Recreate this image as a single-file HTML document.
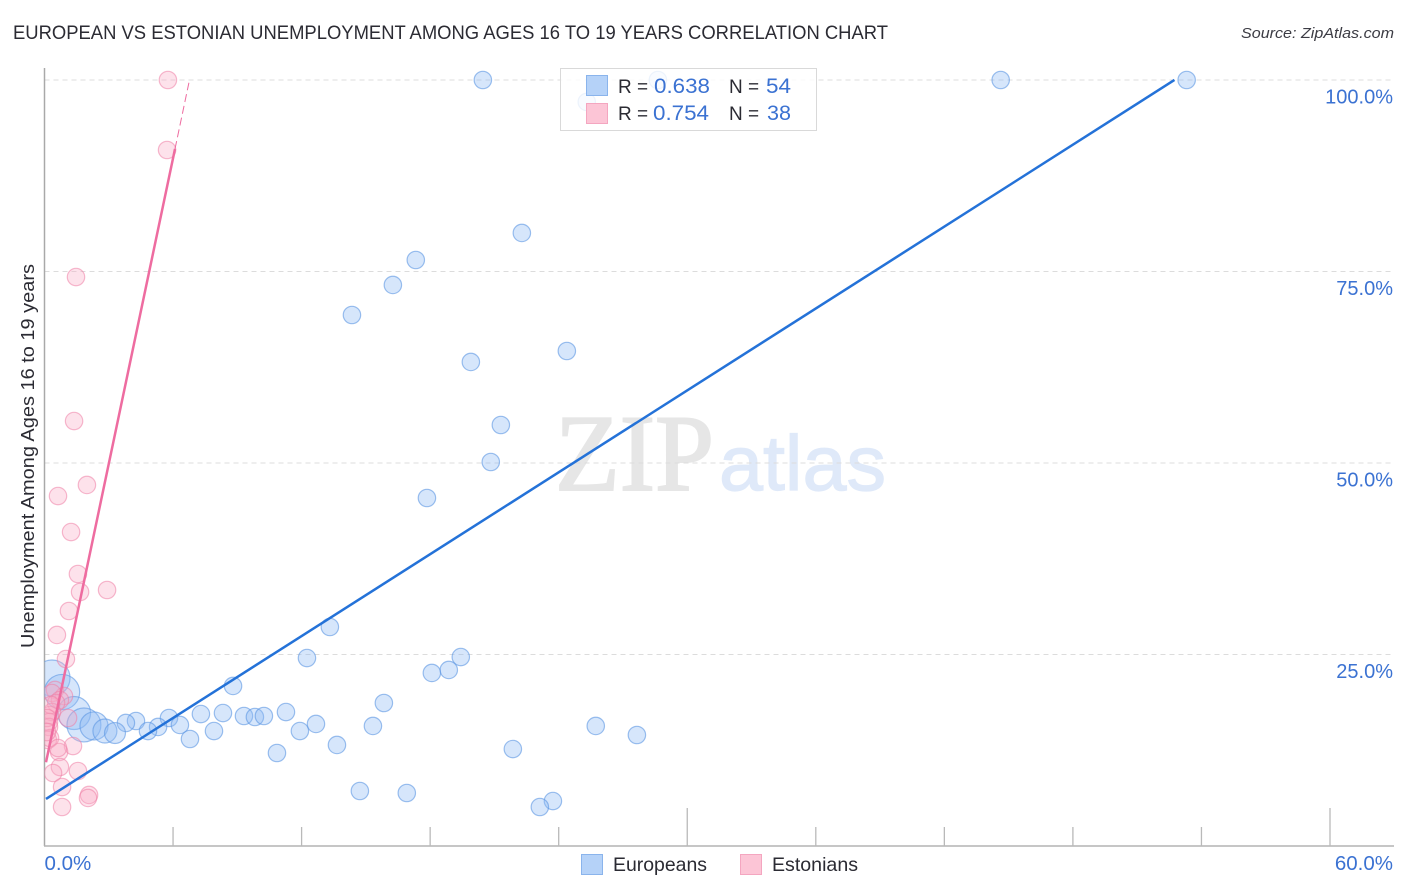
<!DOCTYPE html>
<html lang="en">
<head>
<meta charset="utf-8">
<title>European vs Estonian Unemployment Correlation Chart</title>
<style>
html,body{margin:0;padding:0;background:#fff;}
svg{display:block;font-family:"Liberation Sans",sans-serif;}
</style>
</head>
<body>
<svg id="chart" xmlns="http://www.w3.org/2000/svg" width="1406" height="892" viewBox="0 0 1406 892">
  <defs><clipPath id="plot-clip"><rect x="44.5" y="60" width="1350" height="786"/></clipPath></defs>
  <text x="13" y="39" font-size="19" fill="#2b2b33" textLength="875" lengthAdjust="spacingAndGlyphs">EUROPEAN VS ESTONIAN UNEMPLOYMENT AMONG AGES 16 TO 19 YEARS CORRELATION CHART</text>
  <text x="1241" y="38" font-size="15" font-style="italic" fill="#3c3c44" textLength="153" lengthAdjust="spacingAndGlyphs">Source: ZipAtlas.com</text>
  <text x="555" y="490" font-family="'Liberation Serif',serif" font-size="109" fill="#e6e6e6" stroke="#e6e6e6" stroke-width="2" textLength="159" lengthAdjust="spacingAndGlyphs">ZIP</text>
  <text x="719" y="490" font-size="78" fill="#dfe9f9" stroke="#dfe9f9" stroke-width="1.2" textLength="167" lengthAdjust="spacingAndGlyphs">atlas</text>
  <g id="grid"></g>
  <g id="axes"></g>
  <g id="marks" clip-path="url(#plot-clip)"></g>
  <g id="trends"></g>
  <text transform="translate(34 648) rotate(-90)" font-size="18" fill="#2b2b33" textLength="384" lengthAdjust="spacingAndGlyphs">Unemployment Among Ages 16 to 19 years</text>

  <g>
    <rect x="560.5" y="68.5" width="256" height="62" fill="#fff" fill-opacity="0.82" stroke="#d9d9d9"/>
    <rect x="586.5" y="75.5" width="21" height="20" fill="#b5d2f8" stroke="#8ab4ec"/>
    <rect x="586.5" y="103.5" width="21" height="20" fill="#fcc5d6" stroke="#f4a6c0"/>
    <g font-size="20" fill="#2b2b33">
      <text x="618" y="93" font-size="19">R =</text>
      <text x="654" y="93" fill="#3b72d2" font-size="21" textLength="56" lengthAdjust="spacingAndGlyphs">0.638</text>
      <text x="729" y="93" font-size="19">N =</text>
      <text x="766" y="93" fill="#3b72d2" font-size="21" textLength="25" lengthAdjust="spacingAndGlyphs">54</text>
      <text x="618" y="120" font-size="19">R =</text>
      <text x="653" y="120" fill="#3b72d2" font-size="21" textLength="56" lengthAdjust="spacingAndGlyphs">0.754</text>
      <text x="729" y="120" font-size="19">N =</text>
      <text x="767" y="120" fill="#3b72d2" font-size="21" textLength="24" lengthAdjust="spacingAndGlyphs">38</text>
    </g>
  </g>

  <g>
    <g>
      <rect x="581.5" y="854.5" width="21" height="20" fill="#b5d2f8" stroke="#8ab4ec"/>
      <text x="613" y="871" font-size="19.5" fill="#2b2b33" textLength="94" lengthAdjust="spacingAndGlyphs">Europeans</text>
    </g>
    <g>
      <rect x="740.5" y="854.5" width="21" height="20" fill="#fcc5d6" stroke="#f4a6c0"/>
      <text x="772" y="871" font-size="19.5" fill="#2b2b33" textLength="86" lengthAdjust="spacingAndGlyphs">Estonians</text>
    </g>
  </g>
</svg>
<script>
const xTickValues = [0, 6, 12, 18, 24, 30, 36, 42, 48, 54, 60];
const xMajorTicks = [0, 30, 60];
const xTickLabels = ["0.0%", "60.0%"];
const xTickLabelValues = [0, 60];
const yTickValues = [100, 75, 50, 25];
const yTickLabels = ["100.0%", "75.0%", "50.0%", "25.0%"];

const europeanX = [20.46,28.63,44.63,53.31,25.31,22.28,17.33,16.26,14.35,24.38,19.90,21.30,20.83,17.85,13.32,12.25,19.43,18.87,18.08,8.80,15.84,25.73,27.65,11.27,7.30,8.33,9.31,9.82,10.24,5.81,4.27,3.80,5.30,4.83,6.32,7.91,11.92,12.67,15.33,6.79,13.65,10.85,21.86,14.72,16.91,23.73,23.12,0.35,0.82,1.38,1.84,2.31,2.82,3.29];
const europeanY = [100,100,100,100,97.13,80.03,76.50,73.24,69.32,64.62,63.19,54.96,50.13,45.43,28.59,24.54,24.67,22.98,22.59,20.89,18.67,15.67,14.49,17.49,17.23,17.36,16.97,16.84,16.97,16.71,16.32,16.06,15.54,15.01,15.80,15.01,15.01,15.93,15.67,13.97,13.19,12.14,12.66,7.18,6.92,5.87,5.09,21.93,20.10,17.36,15.80,15.67,15.01,14.75];
const europeanWeights = [1,1,1,1,1,1,1,1,1,1,1,1,1,1,1,1,1,1,1,1,1,1,1,1,1,1,1,1,1,1,1,1,1,1,1,1,1,1,1,1,1,1,1,1,1,1,1,4.3,4.1,3.6,3.8,2.6,1.9,1.45];

const estonianX = [5.76,5.72,1.47,1.38,1.98,0.63,1.24,1.56,2.92,1.66,1.14,0.58,1.00,0.49,0.91,0.35,0.72,0.54,0.35,0.26,0.30,0.21,0.21,1.10,0.16,0.26,1.33,0.68,0.63,0.72,0.40,0.82,1.56,2.08,2.03,0.82,0.12,0.12];
const estonianY = [100,90.86,74.28,55.48,47.13,45.69,40.99,35.51,33.42,33.16,30.68,27.55,24.41,20.37,19.58,19.97,19.06,18.67,17.49,17.10,18.41,16.19,15.54,16.71,13.84,14.10,13.05,12.27,12.79,10.31,9.53,7.70,9.79,6.66,6.27,5.09,16.71,14.88];

const europeanTrendSlope = 1.782;
const europeanTrendIntercept = 6.02;
const europeanTrendStart = 0.07;
const europeanTrendEnd = 52.74;
const estonianTrendSlope = 13.3;
const estonianTrendIntercept = 10.0;
const estonianTrendStart = 0.07;
const estonianSolidEnd = 6.09;
const estonianDashEnd = 6.74;

const NS = "http://www.w3.org/2000/svg";
function sx(v){ return 44.5 + v * (1330 - 44.5) / 60; }
function sy(v){ return 846 - v * (846 - 80) / 100; }
function sr(w){ return 8.7 * Math.sqrt(w); }
function make(tag, parent, props){
  const el = document.createElementNS(NS, tag);
  for (const k in props) el.setAttribute(k, props[k]);
  parent.appendChild(el);
  return el;
}

const grid = document.getElementById("grid");
const axes = document.getElementById("axes");
const marks = document.getElementById("marks");
const trends = document.getElementById("trends");

yTickValues.forEach(function(v, i){
  const g = make("line", grid, {x1:44.5, x2:1394, y1:sy(v), y2:sy(v), stroke:"#dcdcdc", "stroke-width":1, "stroke-dasharray":"5 4"});
  
  
  const t = make("text", axes, {x:1393, y:sy(v) + 23.5, "text-anchor":"end", "font-size":20, fill:"#3b72d2"});
  t.textContent = yTickLabels[i];
  
  
});

const yAxis = make("line", axes, {x1:44.5, x2:44.5, y1:68, y2:846, stroke:"#a9a9a9", "stroke-width":1.5});


const xAxis = make("line", axes, {x1:44, x2:1394, y1:846, y2:846, stroke:"#b4b4b4", "stroke-width":1.5});



xTickValues.forEach(function(v){
  if (v === 0) return;
  const top = xMajorTicks.indexOf(v) >= 0 ? 808 : 827;
  const tick = make("line", axes, {x1:sx(v), x2:sx(v), y1:top, y2:846, stroke:"#b9b9b9", "stroke-width":1.3});
  
  
});
xTickLabelValues.forEach(function(v, i){
  const t = make("text", axes, {x: i === 0 ? sx(v) : 1393, y:870, "text-anchor": i === 0 ? "start" : "end", "font-size":20.5, fill:"#3b72d2"});
  t.textContent = xTickLabels[i];
  
  
});

europeanX.forEach(function(v, i){
  const c = make("circle", marks, {cx:sx(v), cy:sy(europeanY[i]), r:sr(europeanWeights[i]), fill:"#8dbbf3", "fill-opacity":0.36, stroke:"#5c96e2", "stroke-opacity":0.6, "stroke-width":1.2});
  
  
});
estonianX.forEach(function(v, i){
  const c = make("circle", marks, {cx:sx(v), cy:sy(estonianY[i]), r:sr(1), fill:"#f9a9c3", "fill-opacity":0.34, stroke:"#ee7fa6", "stroke-opacity":0.55, "stroke-width":1.2});
  
  
});

function eur(x){ return europeanTrendSlope * x + europeanTrendIntercept; }
function est(x){ return estonianTrendSlope * x + estonianTrendIntercept; }

const blueLine = make("line", trends, {x1:sx(europeanTrendStart), y1:sy(eur(europeanTrendStart)), x2:sx(europeanTrendEnd), y2:sy(eur(europeanTrendEnd)), stroke:"#2472d8", "stroke-width":2.5});


const pinkLine = make("line", trends, {x1:sx(estonianTrendStart), y1:sy(est(estonianTrendStart)), x2:sx(estonianSolidEnd), y2:sy(est(estonianSolidEnd)), stroke:"#ee6ca0", "stroke-width":2.5});


const pinkDash = make("line", trends, {x1:sx(estonianSolidEnd), y1:sy(est(estonianSolidEnd)), x2:sx(estonianDashEnd), y2:sy(est(estonianDashEnd)), stroke:"#ee6ca0", "stroke-width":1, "stroke-dasharray":"8 4"});


</script>
</body>
</html>
